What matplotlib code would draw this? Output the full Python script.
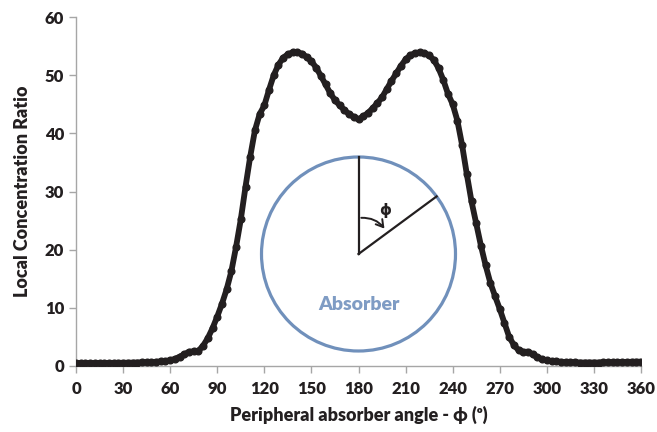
import numpy as np
import matplotlib
matplotlib.use("Agg")
import matplotlib.pyplot as plt
from matplotlib.patches import Circle, FancyArrowPatch

plt.rcParams['font.family'] = ['Lato', 'DejaVu Sans']
plt.rcParams['font.weight'] = 'heavy'

# angulo (graus) e razao de concentracao
angles = np.arange(0, 361, 3)
ratio = [
    0.50, 0.50, 0.50, 0.50, 0.50, 0.52, 0.52, 0.53, 0.54, 0.55,   # 0-27
    0.55, 0.57, 0.58, 0.60, 0.62, 0.64, 0.68, 0.72, 0.78, 0.85,   # 30-57
    0.98, 1.20, 1.60, 2.00, 2.45, 2.50, 2.60, 3.50, 4.80, 6.50,   # 60-87
    8.50, 10.7, 13.2, 16.3, 20.5, 25.2, 30.8, 36.0, 40.5, 43.3,   # 90-117
    44.8, 47.5, 50.0, 51.8, 53.0, 53.6, 53.9, 53.9, 53.7, 53.1,   # 120-147
    52.4, 51.3, 49.9, 48.4, 46.9, 45.7, 44.8, 44.0, 43.3, 42.8,   # 150-177
    42.4, 42.9, 43.5, 44.3, 45.2, 46.2, 47.6, 49.0, 50.3, 51.6,   # 180-207
    52.7, 53.4, 53.8, 53.9, 53.8, 53.4, 52.6, 51.2, 49.2, 46.8,   # 210-237
    45.0, 42.2, 38.0, 33.0, 28.3, 24.5, 20.7, 17.3, 14.3, 12.0,   # 240-267
    9.80, 7.40, 5.00, 3.60, 2.70, 2.45, 2.45, 2.00, 1.50, 1.15,   # 270-297
    0.95, 0.85, 0.78, 0.72, 0.68, 0.64, 0.62, 0.60, 0.60, 0.60,   # 300-327
    0.60, 0.60, 0.62, 0.63, 0.65, 0.66, 0.68, 0.70, 0.72, 0.74,   # 330-357
    0.75,                                                         # 360
]
x_ticks = list(range(0, 361, 30))
y_ticks = list(range(0, 61, 10))

W, H = 657, 432
fig = plt.figure(figsize=(W / 100, H / 100), dpi=100)
ax = fig.add_axes([76 / W, 1 - 366 / H, (641 - 76) / W, (366 - 17) / H])

ax.plot(angles, ratio, color='#231f20', lw=4.2, marker='o', ms=4.8,
        solid_capstyle='round', solid_joinstyle='round', zorder=3)

ax.set_xlim(0, 360)
ax.set_ylim(0, 60)
ax.set_xticks(x_ticks)
ax.set_yticks(y_ticks)
for s in ['top', 'right']:
    ax.spines[s].set_visible(False)
for s in ['left', 'bottom']:
    ax.spines[s].set_color('#a6a6a6')
    ax.spines[s].set_linewidth(1.0)
ax.tick_params(colors='#a6a6a6', length=5, width=1.0, labelcolor='#231f20',
               labelsize=12)
ax.tick_params(axis='x', pad=6)
for lab in ax.get_xticklabels() + ax.get_yticklabels():
    lab.set_fontweight('heavy')

ax.set_xlabel('Peripheral absorber angle - \u03d5 (\u1d52)', fontsize=13,
              fontweight='heavy', color='#231f20', labelpad=6)
ax.set_ylabel('Local Concentration Ratio', fontsize=13, fontweight='heavy',
              color='#231f20', labelpad=10)

# desenho do absorvedor (coordenadas em pixels)
ins = fig.add_axes([250 / W, 1 - 360 / H, 220 / W, 220 / H])
ins.set_xlim(250, 470)
ins.set_ylim(360, 140)
ins.axis('off')
cx, cy, r = 358.5, 254, 97
ins.add_patch(Circle((cx, cy), r, fill=False, ec='#7090bb', lw=2.3))
ang = np.deg2rad(53.6)
ins.plot([cx, cx], [cy, cy - r], color='#231f20', lw=1.6)
ins.plot([cx, cx + r * np.sin(ang)], [cy, cy - r * np.cos(ang)],
         color='#231f20', lw=1.6)
ra = 36
a2 = np.deg2rad(50)
arr = FancyArrowPatch((cx, cy - ra), (cx + ra * np.sin(a2), cy - ra * np.cos(a2)),
                      connectionstyle='arc3,rad=-0.3', arrowstyle='->,head_length=5,head_width=3',
                      color='#231f20', lw=1.4)
ins.add_patch(arr)
ins.text(385, 210, '\u03d5', fontsize=11, ha='center', va='center',
         color='#231f20', family=['DejaVu Sans'])
ins.text(cx, 305, 'Absorber', fontsize=14, fontweight='heavy', ha='center',
         va='center', color='#7f9cc4')

fig.savefig('out.png', dpi=100)
